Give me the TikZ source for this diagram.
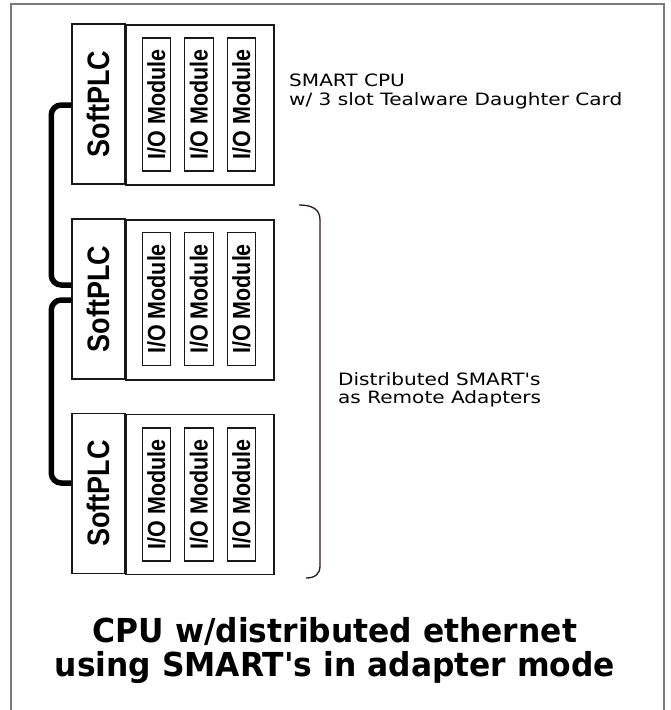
\documentclass[tikz,border=0pt]{standalone}
\usepackage{fontspec}
\newfontfamily\lblfont{DejaVu Sans}[FakeStretch=1.18]
\newfontfamily\ttlfont{DejaVu Sans}[FakeStretch=0.95]
\newfontfamily\boxfont{Liberation Sans}
\usetikzlibrary{calc}
\definecolor{framegray}{HTML}{7A7A7A}
\definecolor{bracecol}{HTML}{2A1A1A}
\tikzset{
  plcbox/.style={draw=black!90, line width=1.5pt, fill=white, rotate=90,
    minimum width=160pt, minimum height=53pt, inner sep=0pt,
    font=\boxfont\bfseries\fontsize{27}{27}\selectfont},
  rackbox/.style={draw=black!90, line width=1.5pt, anchor=north west,
    minimum width=148pt, minimum height=160pt, inner sep=0pt},
  iomod/.style={draw=black!90, line width=1.2pt, rotate=90,
    minimum width=133pt, minimum height=28.5pt, inner sep=0pt,
    font=\boxfont\bfseries\fontsize{21.5}{21.5}\selectfont},
  cable/.style={line width=5.5pt, black, rounded corners=10pt},
  bracket/.style={line width=1.3pt, bracecol},
  lbl/.style={inner sep=0pt, anchor=north west, align=left,
    font=\lblfont\fontsize{17}{18.5}\selectfont},
  ttl/.style={inner sep=0pt, align=center,
    font=\ttlfont\bfseries\fontsize{33}{34}\selectfont}
}
\newcommand{\st}[1]{\scalebox{1}[1.15]{#1}}
\begin{document}
\begin{tikzpicture}[x=1pt,y=-1pt]
\useasboundingbox (0,0) rectangle (670,710);
\draw[framegray, line width=1.8pt] (11,712) -- (11,4) -- (664,4) -- (664,712);

% rack 1
\node[plcbox] (p1) at (98.5,104) {\st{SoftPLC}};
\node[rackbox] (r1) at (125,24) {};
\node[iomod] (m11) at (156.5,104.5) {\st{I/O Module}};
\node[iomod] (m12) at (199,104.5) {\st{I/O Module}};
\node[iomod] (m13) at (241.5,104.5) {\st{I/O Module}};
% rack 2
\node[plcbox] (p2) at (98.5,299) {\st{SoftPLC}};
\node[rackbox] (r2) at (125,219) {};
\node[iomod] (m21) at (156.5,299) {\st{I/O Module}};
\node[iomod] (m22) at (199,299) {\st{I/O Module}};
\node[iomod] (m23) at (241.5,299) {\st{I/O Module}};
% rack 3
\node[plcbox] (p3) at (98.5,493.5) {\st{SoftPLC}};
\node[rackbox] (r3) at (125,413.5) {};
\node[iomod] (m31) at (156.5,494.5) {\st{I/O Module}};
\node[iomod] (m32) at (199,494.5) {\st{I/O Module}};
\node[iomod] (m33) at (241.5,494.5) {\st{I/O Module}};

% ethernet cables
\draw[cable] ($(p1.north)+(0,1)$) -- ++(-20,0) |- ($(p2.north)+(0,-14)$);
\draw[cable] ($(p2.north)+(0,1)$) -- ++(-20,0) |- ($(p3.north)+(0,-10.5)$);

% bracket
\draw[bracket] (299,205) .. controls (312,205) and (320,209) .. (320,220)
  -- (320,566) .. controls (320,574) and (315,578) .. (306,578);

% labels
\node[lbl] (cpu) at (289,74) {SMART CPU\\w/ 3 slot Tealware Daughter Card};
\node[lbl] (dist) at (338,372) {Distributed SMART's\\as Remote Adapters};

% title
\node[ttl] (title) at (335,651) {CPU w/distributed ethernet\\using SMART's in adapter mode};
\end{tikzpicture}
\end{document}
